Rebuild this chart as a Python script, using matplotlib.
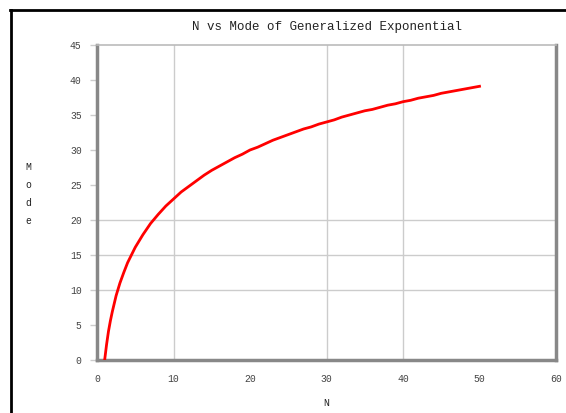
import matplotlib.pyplot as plt
from matplotlib.lines import Line2D

# N vs mode
n_vals = [1, 1.25, 1.5, 1.75, 2, 2.5, 3, 3.5] + list(range(4, 51))
mode_vals = [0.0, 2.2, 4.1, 5.6, 6.9, 9.2, 11.0, 12.5, 13.9, 16.1, 17.9,
             19.5, 20.8, 22.0, 23.0,
             24.0, 24.8, 25.6, 26.4, 27.1, 27.7, 28.3, 28.9, 29.4, 30.0,
             30.4, 30.9, 31.4, 31.8, 32.2, 32.6, 33.0, 33.3, 33.7, 34.0,
             34.3, 34.7, 35.0, 35.3, 35.6, 35.8, 36.1, 36.4, 36.6, 36.9,
             37.1, 37.4, 37.6, 37.8, 38.1, 38.3, 38.5, 38.7, 38.9, 39.1]

x_ticks = [0, 10, 20, 30, 40, 50, 60]
y_ticks = [0, 5, 10, 15, 20, 25, 30, 35, 40, 45]
x_grid = [10, 30, 40]
y_grid = [10, 15, 20]

mono = 'Liberation Mono'

fig = plt.figure(figsize=(5.66, 4.13), dpi=100)
ax = fig.add_axes([97 / 566, 1 - 360 / 413, (556 - 97) / 566, (360 - 45) / 413])

for gx in x_grid:
    ax.axvline(gx, color='#cccccc', lw=1.0, zorder=1)
for gy in y_grid:
    ax.axhline(gy, color='#cccccc', lw=1.0, zorder=1)

ax.plot(n_vals, mode_vals, color='#ff0000', lw=2.0, zorder=3)

ax.set_xlim(0, 60)
ax.set_ylim(0, 45)
ax.set_xticks(x_ticks)
ax.set_yticks(y_ticks)
ax.set_xticklabels([str(t) for t in x_ticks], fontfamily=mono, fontsize=7, color='#444444')
ax.set_yticklabels([str(t) for t in y_ticks], fontfamily=mono, fontsize=7, color='#444444')
ax.tick_params(axis='both', length=5, width=1, color='#cccccc', pad=6)
ax.tick_params(axis='x', length=0, pad=10)

for side in ['left', 'bottom', 'right']:
    ax.spines[side].set_color('#888888')
    ax.spines[side].set_linewidth(2.5)
ax.spines['top'].set_color('#bbbbbb')
ax.spines['top'].set_linewidth(1.2)

ax.set_title('N vs Mode of Generalized Exponential', fontfamily=mono,
             fontsize=9, color='#222222', pad=11)
ax.set_xlabel('N', fontfamily=mono, fontsize=7, color='#222222', labelpad=10)
fig.text(28 / 566, 1 - 194 / 413, 'M\no\nd\ne', fontfamily=mono, fontsize=7,
         color='#222222', ha='center', va='center', linespacing=2.0)

# black frame on the left and top
fig.add_artist(Line2D([11 / 566, 11 / 566], [0, 1 - 10 / 413], color='black', lw=2))
fig.add_artist(Line2D([10 / 566, 1], [1 - 10 / 413, 1 - 10 / 413], color='black', lw=2))

fig.savefig('out.png', dpi=100)
